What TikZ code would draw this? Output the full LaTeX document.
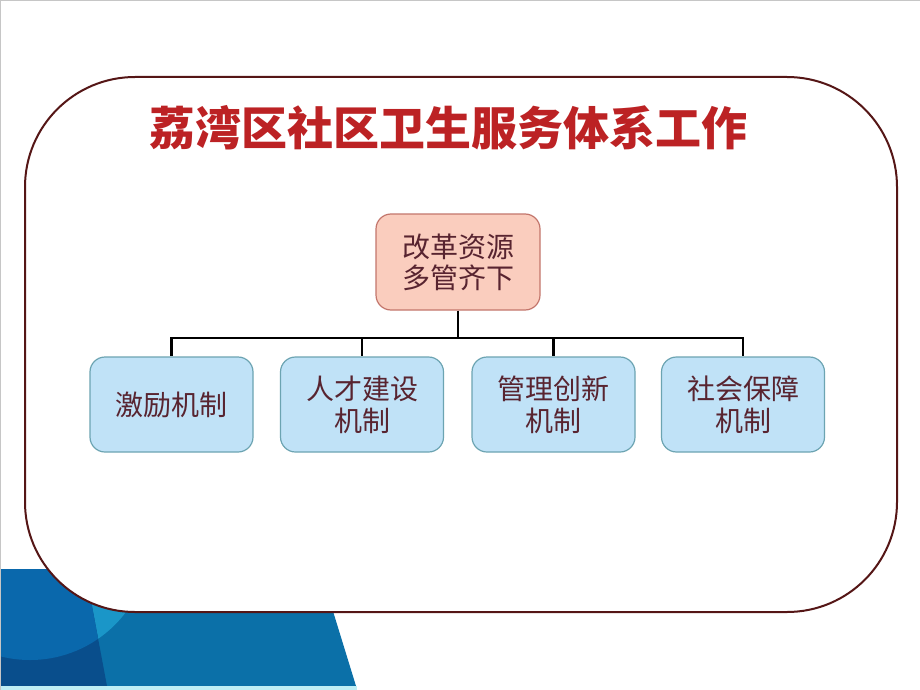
\documentclass[tikz,border=0pt]{standalone}
\usepackage{fontspec}
\newfontfamily\cjk{Noto Sans CJK SC}
\usetikzlibrary{positioning,calc}

\definecolor{frameline}{RGB}{85,22,22}
\definecolor{titlered}{RGB}{188,34,36}
\definecolor{topfill}{RGB}{250,205,190}
\definecolor{topline}{RGB}{195,118,108}
\definecolor{subfill}{RGB}{192,226,247}
\definecolor{subline}{RGB}{108,164,178}
\definecolor{boxtext}{RGB}{88,36,48}
\definecolor{bandbase}{RGB}{11,112,168}
\definecolor{bandlight}{RGB}{26,150,200}
\definecolor{bandmid}{RGB}{10,104,172}
\definecolor{banddark}{RGB}{9,78,140}
\definecolor{bandedge}{RGB}{190,238,245}

\begin{document}
\begin{tikzpicture}
[x=1pt, y=-1pt, font=\cjk, line width=1pt,
toptask/.style={rectangle, rounded corners=15pt, draw=topline, fill=topfill, line width=1.2pt,
  minimum width=164pt, minimum height=96pt, align=center, text=boxtext,
  font=\cjk\fontsize{28}{31}\selectfont},
subtask/.style={rectangle, rounded corners=15pt, draw=subline, fill=subfill, line width=1.2pt,
  minimum width=163pt, minimum height=95pt, align=center, text=boxtext,
  font=\cjk\fontsize{28}{32}\selectfont},
link/.style={draw=black, line width=2.5pt}
]
\useasboundingbox (0,0) rectangle (920,690);

% background band
\begin{scope}
\clip (0,569) -- (320,569) -- (356,686) -- (0,686) -- cycle;
\fill[bandbase] (0,560) rectangle (360,690);
\fill[bandlight] (30,540) circle (120);
\clip (0,569) -- (85,569) -- (107,686) -- (0,686) -- cycle;
\fill[banddark] (0,560) rectangle (120,690);
\fill[bandmid] (30,540) circle (120);
\end{scope}
\fill[bandedge] (0,686) rectangle (357,690);
\draw[gray!45, line width=1.5pt] (0,0.5) -- (920,0.5);
\draw[gray!45, line width=1.5pt] (0.5,0) -- (0.5,690);

% frame
\draw[frameline, fill=white, line width=2pt, rounded corners=110pt]
  (25,77) rectangle (897,612);

\node[text=titlered, font=\cjk\bfseries\fontsize{46}{50}\selectfont] (title) at (448,128)
  {荔湾区社区卫生服务体系工作};

\node[toptask] (reform) at (458,262) {改革资源\\多管齐下};

\node[subtask] (incent) at (171.5,404.5) {激励机制};
\node[subtask] (talent) at (362,404.5) {人才建设\\机制};
\node[subtask] (manage) at (553.5,404.5) {管理创新\\机制};
\node[subtask] (social) at (743,404.5) {社会保障\\机制};

\coordinate (bus) at (458,338);
\draw[link] (reform.south) -- (bus);
\draw[link] (bus) -| (incent.north);
\draw[link] (bus) -| (talent.north);
\draw[link] (bus) -| (manage.north);
\draw[link] (bus) -| (social.north);
\end{tikzpicture}
\end{document}
